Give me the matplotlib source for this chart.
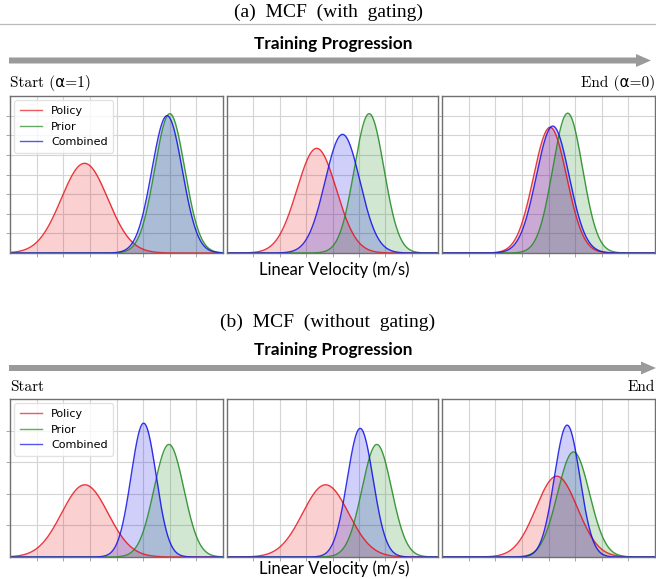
import numpy as np
import matplotlib
matplotlib.use("Agg")
import matplotlib.pyplot as plt
from matplotlib.patches import FancyArrow

# ---- data (Gaussian parameters; x in grid units 0..8) ----
series_names = ["Policy", "Prior", "Combined"]
# (a) with gating
a_policy_mu = [2.80, 3.40, 4.06]
a_policy_sd = [0.873, 0.748, 0.623]
a_prior_mu = [6.00, 5.39, 4.72]
a_prior_sd = [0.562, 0.562, 0.560]
a_comb_mu = [5.90, 4.38, 4.16]
a_comb_sd = [0.570, 0.660, 0.617]
# (b) without gating
b_policy_mu = [2.81, 3.74, 4.31]
b_policy_sd = [0.873, 0.873, 0.780]
b_prior_mu = [5.97, 5.68, 4.94]
b_prior_sd = [0.560, 0.560, 0.600]
b_comb_mu = [5.02, 5.05, 4.70]
b_comb_sd = [0.471, 0.490, 0.478]

row_titles = ["(a)  MCF  (with  gating)", "(b)  MCF  (without  gating)"]
start_labels = ["Start (\u03b1=1)", "Start"]
end_labels = ["End (\u03b1=0)", "End"]
xlabel = "Linear Velocity (m/s)"
arrow_label = "Training Progression"

colors = ["#e8141c", "#1f8a1f", "#1010e8"]

W, H = 656, 579
fig = plt.figure(figsize=(W / 100, H / 100), dpi=100)

bg = fig.add_axes([0, 0, 1, 1])
bg.set_xlim(0, W)
bg.set_ylim(H, 0)
bg.axis("off")

x = np.linspace(0, 8, 600)


def pdf(mu, sd):
    return np.exp(-0.5 * ((x - mu) / sd) ** 2) / (sd * np.sqrt(2 * np.pi))


rows = [
    dict(top=96, bot=253, ylim=0.8, ystep=0.1,
         mus=[a_policy_mu, a_prior_mu, a_comb_mu], sds=[a_policy_sd, a_prior_sd, a_comb_sd],
         title_y=12, tp_y=44, arrow_y=60.5, arrow_end=651, se_y=83, xl_y=270, line=True),
    dict(top=399, bot=557, ylim=1.0, ystep=0.2,
         mus=[b_policy_mu, b_prior_mu, b_comb_mu], sds=[b_policy_sd, b_prior_sd, b_comb_sd],
         title_y=322, tp_y=350, arrow_y=368, arrow_end=656, se_y=387, xl_y=569, line=False),
]
lefts = [10, 227, 442]
rights = [223, 438, 655]

serif_fam = ["cmr10", "DejaVu Sans"]

for r, row in enumerate(rows):
    for p in range(3):
        ax = fig.add_axes([lefts[p] / W, 1 - row["bot"] / H,
                           (rights[p] - lefts[p]) / W, (row["bot"] - row["top"]) / H])
        for s in range(3):
            y = pdf(row["mus"][s][p], row["sds"][s][p])
            ax.plot(x, y, color=colors[s], lw=1.0, alpha=0.85, label=series_names[s])
            ax.fill_between(x, 0, y, color=colors[s], alpha=0.2, lw=0)
        ax.set_xlim(0, 8)
        ax.set_ylim(0, row["ylim"])
        ax.set_xticks(np.arange(1, 8))
        ax.set_yticks(np.arange(1, round(row["ylim"] / row["ystep"])) * row["ystep"])
        ax.set_xticklabels([])
        ax.set_yticklabels([])
        ax.tick_params(length=3, width=0.6, color="#999999")
        ax.grid(True, color="#d4d4d4", lw=0.8)
        ax.set_axisbelow(True)
        for sp in ax.spines.values():
            sp.set_color("#707070")
            sp.set_linewidth(1.0)
        if p == 0:
            leg = ax.legend(loc="upper left", fontsize=8, frameon=True, handlelength=2.0,
                            borderpad=0.5, labelspacing=0.5, handletextpad=0.8,
                            fancybox=True, borderaxespad=0.4)
            leg.get_frame().set_edgecolor("#dddddd")
            for lh in leg.get_lines():
                lh.set_alpha(0.7)

    bg.text(W / 2, row["title_y"], row_titles[r], ha="center", va="center",
            fontsize=14, family="Liberation Serif")
    if row["line"]:
        bg.plot([0, W], [24, 24], color="#bbbbbb", lw=0.9)
    bg.text(W / 2 + 5, row["tp_y"], arrow_label, ha="center", va="center",
            fontsize=12.4, fontweight="bold", family="Lato")
    bg.add_patch(FancyArrow(9, row["arrow_y"], row["arrow_end"] - 9, 0, width=6,
                            head_width=13, head_length=15, length_includes_head=True,
                            color="#9a9a9a", lw=0))
    bg.text(10, row["se_y"], start_labels[r], ha="left", va="center",
            fontsize=11, family=serif_fam)
    bg.text(655, row["se_y"], end_labels[r], ha="right", va="center",
            fontsize=11, family=serif_fam)
    bg.text(W / 2 + 6, row["xl_y"], xlabel, ha="center", va="center",
            fontsize=12, family="Lato")

fig.savefig("out.png", dpi=100)
